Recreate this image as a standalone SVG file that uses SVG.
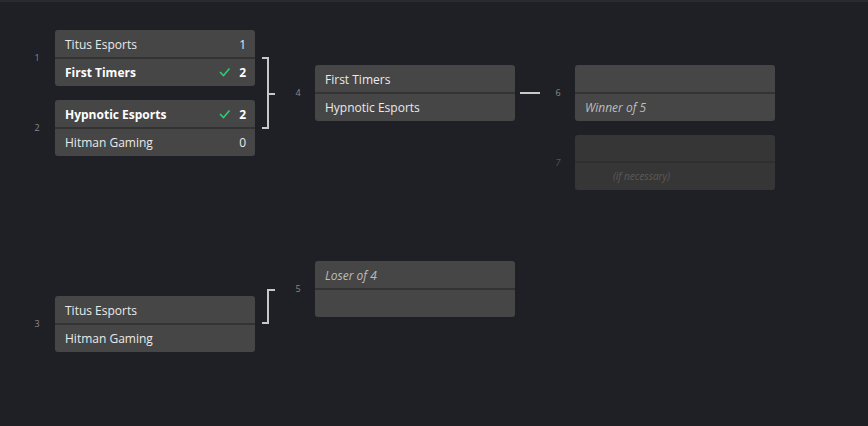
<svg xmlns="http://www.w3.org/2000/svg" width="868" height="426" viewBox="0 0 868 426">
<style>
text{font-family:"Open Sans","Noto Sans",sans-serif;font-size:12px;fill:#eaeaea}
.box{fill:#464646}
.dim{fill:#363636}
.div{stroke:#2e2e2e;stroke-width:1.5}
.num{font-size:9px;fill:#8a8a8a;text-anchor:middle}
.b{font-weight:bold;fill:#fff}
.s{text-anchor:end}
.i{font-style:italic;fill:#bdbdbd}
.con{stroke:#c8c8c8;stroke-width:2;fill:none}
.chk{stroke:#2ecc71;stroke-width:1.6;fill:none}
</style>
<rect width="868" height="426" fill="#1f2025"/>
<rect width="868" height="2" fill="#2a2b30"/>
<g id="m1"><rect class="box" x="55" y="30" width="200" height="56" rx="3"/><line class="div" x1="55" y1="58" x2="255" y2="58"/>
<text class="num" x="37" y="61">1</text>
<text x="65" y="49">Titus Esports</text><text class="s" x="246" y="49">1</text>
<text class="b" x="65" y="77">First Timers</text><path class="chk" d="M220 72l3.5 3.5 6-7"/><text class="s b" x="246" y="77">2</text></g>
<g id="m2"><rect class="box" x="55" y="100" width="200" height="56" rx="3"/><line class="div" x1="55" y1="128" x2="255" y2="128"/>
<text class="num" x="37" y="131">2</text>
<text class="b" x="65" y="119">Hypnotic Esports</text><path class="chk" d="M220 114l3.5 3.5 6-7"/><text class="s b" x="246" y="119">2</text>
<text x="65" y="147">Hitman Gaming</text><text class="s" x="246" y="147">0</text></g>
<g id="m4"><rect class="box" x="315" y="65" width="200" height="56" rx="3"/><line class="div" x1="315" y1="93" x2="515" y2="93"/>
<text class="num" x="298" y="96">4</text>
<text x="325" y="84">First Timers</text><text x="325" y="112">Hypnotic Esports</text></g>
<g id="m6"><rect class="box" x="575" y="65" width="200" height="56" rx="3"/><line class="div" x1="575" y1="93" x2="775" y2="93"/>
<text class="num" x="558" y="96">6</text>
<text class="i" x="585" y="112">Winner of 5</text></g>
<g id="m7"><rect class="dim" x="575" y="135" width="200" height="55" rx="3"/><line class="div" x1="575" y1="162" x2="775" y2="162"/>
<text class="num" x="558" y="166" style="fill:#555;font-style:italic">7</text>
<text x="613" y="180" style="font-size:10px;font-style:italic;fill:#5a5a5a">(if necessary)</text></g>
<g id="m5"><rect class="box" x="315" y="261" width="200" height="56" rx="3"/><line class="div" x1="315" y1="289" x2="515" y2="289"/>
<text class="num" x="298" y="292">5</text>
<text class="i" x="325" y="280">Loser of 4</text></g>
<g id="m3"><rect class="box" x="55" y="296" width="200" height="56" rx="3"/><line class="div" x1="55" y1="324" x2="255" y2="324"/>
<text class="num" x="37" y="327">3</text>
<text x="65" y="315">Titus Esports</text><text x="65" y="343">Hitman Gaming</text></g>
<g id="connectors">
<path class="con" d="M262 58H268V128H262M268 94H275"/>
<path class="con" d="M520 93H540"/>
<path class="con" d="M275 290H268V323H262"/>
</g>
</svg>
